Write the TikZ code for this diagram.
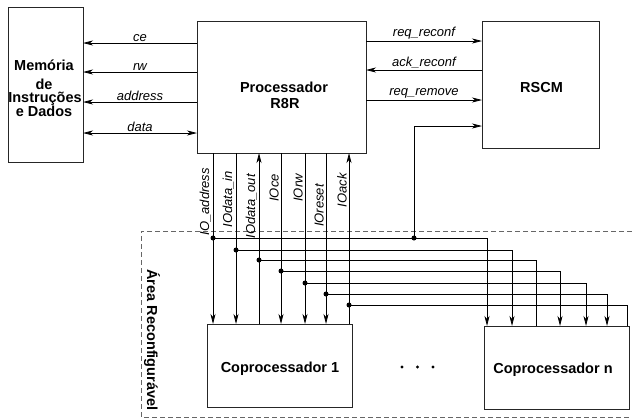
\documentclass[tikz,border=0pt]{standalone}
\usepackage{fontspec}
\setmainfont{Liberation Sans}
\usetikzlibrary{arrows.meta}
\begin{document}
\begin{tikzpicture}[x=1pt,y=-1pt,
  box/.style={draw=black!85, line width=0.8pt, inner sep=0pt, outer sep=0pt},
  btxt/.style={font=\bfseries\fontsize{14.5}{16}\selectfont, inner sep=0pt, anchor=base},
  lab/.style={font=\itshape\fontsize{13}{15}\selectfont, inner sep=1.2pt},
  vlab/.style={font=\itshape\fontsize{13}{15}\selectfont, inner sep=1pt, rotate=90, anchor=south east},
  wire/.style={line width=0.75pt},
  arr/.style={wire, -{Stealth[length=10pt,width=5pt,inset=3pt]}},
  darr/.style={wire, {Stealth[length=10pt,width=5pt,inset=3pt]}-{Stealth[length=10pt,width=5pt,inset=3pt]}},
  dot/.style={circle, fill=black, inner sep=0pt, minimum size=5pt}]
\useasboundingbox (0,0) rectangle (632,418);

% reconfigurable area
\draw[black!60, line width=0.6pt, dash pattern=on 5pt off 3pt] (632,231) -- (141,231) -- (141,417) -- (632,417);
\node[font=\bfseries\fontsize{14.5}{16}\selectfont, rotate=-90, inner sep=0pt] (area) at (152,340) {Área Reconfigurável};

% boxes
\node[box, minimum width=75pt, minimum height=155pt] (mem) at (45.5,84.5) {};
\node[box, minimum width=169pt, minimum height=132pt] (proc) at (281.5,87) {};
\node[box, minimum width=117pt, minimum height=127pt] (rscm) at (540.5,84.5) {};
\node[box, minimum width=145pt, minimum height=83pt] (cop1) at (279.5,365.5) {};
\node[box, minimum width=145pt, minimum height=83pt] (copn) at (556.5,367.5) {};

% box texts
\node[btxt] (m1) at (44,70.5) {Memória};
\node[btxt] (m2) at (44,89) {de};
\node[btxt] (m3) at (45,102.5) {Instruções};
\node[btxt] (m4) at (44,116.5) {e Dados};
\node[btxt] (p1) at (284,92) {Processador};
\node[btxt] (p2) at (285,108) {R8R};
\node[btxt] (r1) at (541.5,92) {RSCM};
\node[btxt] (c1) at (280,372) {Coprocessador 1};
\node[btxt] (cn) at (553,373) {Coprocessador n};

% dots between coprocessors
\foreach \xx in {402,417.5,433} \fill (\xx,367) circle (1.6pt);

% memory <-> processor
\coordinate (yce) at (0,43);
\coordinate (yrw) at (0,72);
\coordinate (yad) at (0,102);
\coordinate (yda) at (0,133);
\draw[arr] (proc.west |- yce) -- (mem.east |- yce) node[lab, midway, above] {ce};
\draw[arr] (proc.west |- yrw) -- (mem.east |- yrw) node[lab, midway, above] {rw};
\draw[arr] (proc.west |- yad) -- (mem.east |- yad) node[lab, midway, above] {address};
\draw[darr] (proc.west |- yda) -- (mem.east |- yda) node[lab, midway, above] {data};

% processor <-> RSCM
\coordinate (yrq) at (0,41);
\coordinate (yak) at (0,70);
\coordinate (yrm) at (0,100);
\coordinate (yrs) at (0,126);
\draw[arr] (proc.east |- yrq) -- (rscm.west |- yrq) node[lab, midway, above] {req\_reconf};
\draw[arr] (rscm.west |- yak) -- (proc.east |- yak) node[lab, midway, above] {ack\_reconf};
\draw[arr] (proc.east |- yrm) -- (rscm.west |- yrm) node[lab, midway, above] {req\_remove};

% buses (inputs to coprocessors)
\foreach \i/\x/\y/\xn/\lab/\t in {1/213/238/487/IO\_address/167, 2/236/250/512/IOdata\_in/170, 4/281/271/560/IOce/173, 5/305/283/586/IOrw/173, 6/326/294/607/IOreset/183}{
  \coordinate (d\i) at (\x,\y);
  \coordinate (n\i) at (\xn,\y);
  \draw[arr] (proc.south -| d\i) -- (cop1.north -| d\i);
  \draw[arr] (d\i) -- (n\i) -- (copn.north -| n\i);
  \node[dot] at (d\i) {};
  \node[vlab] (l\i) at (\x-1,\t) {\lab};
}
% buses (outputs from coprocessors)
\foreach \i/\x/\y/\xn/\lab/\t in {3/259/260/536/IOdata\_out/173, 7/349/305/627/IOack/172}{
  \coordinate (d\i) at (\x,\y);
  \coordinate (n\i) at (\xn,\y);
  \draw[arr] (cop1.north -| d\i) -- (proc.south -| d\i);
  \draw[wire] (copn.north -| n\i) -- (n\i) -- (d\i);
  \node[dot] at (d\i) {};
  \node[vlab] (l\i) at (\x-1,\t) {\lab};
}

% RSCM feedback from address bus
\coordinate (dr) at (414,238);
\draw[arr] (dr) -- (dr |- yrs) -- (rscm.west |- yrs);
\node[dot] at (dr) {};
\end{tikzpicture}
\end{document}
